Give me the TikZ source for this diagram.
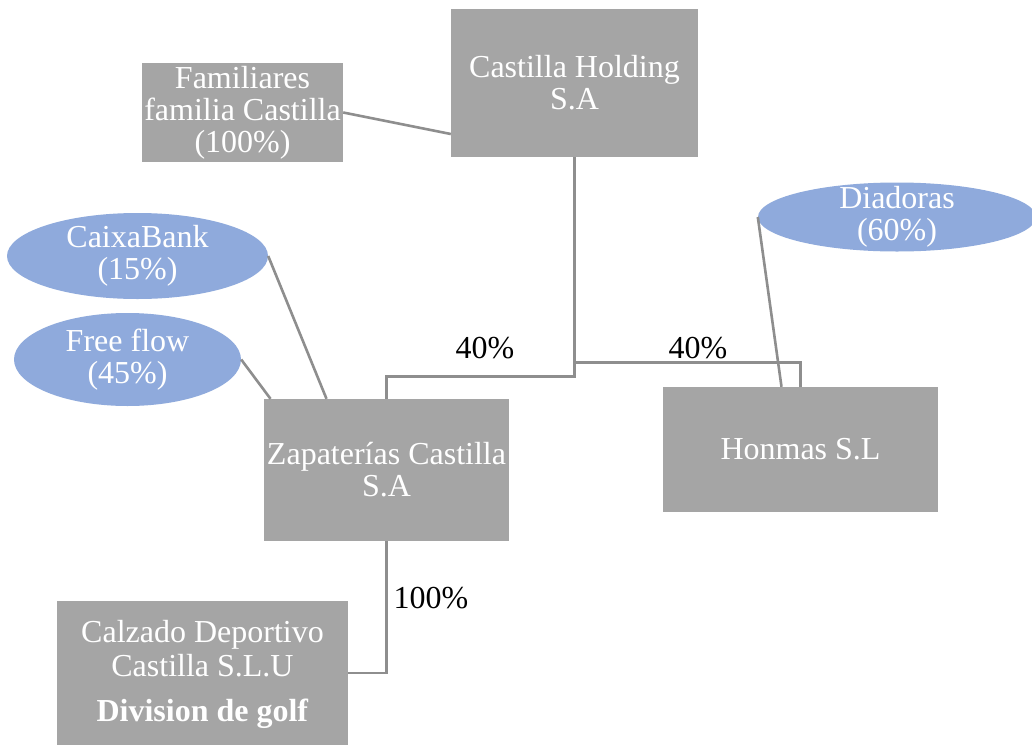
\documentclass[tikz,border=0pt]{standalone}
\usepackage{fontspec}
\setmainfont{Liberation Serif}
\usepackage{tikz}
\usetikzlibrary{positioning,shapes.geometric}

\definecolor{boxgray}{HTML}{A5A5A5}
\definecolor{ovalblue}{HTML}{8FAADC}
\definecolor{linegray}{HTML}{8E8E8E}

\tikzset{
  box/.style={rectangle, fill=boxgray, text=white, align=center, inner sep=0pt,
              font=\fontsize{32}{32}\selectfont},
  oval/.style={ellipse, fill=ovalblue, text=white, align=center, inner xsep=0pt, inner ysep=-20pt,
               font=\fontsize{32}{32}\selectfont},
  link/.style={draw=linegray, line width=2.6pt},
  pct/.style={inner sep=0pt, font=\fontsize{32}{32}\selectfont}
}

\begin{document}
\begin{tikzpicture}[x=1pt, y=-1pt, node distance=2cm, on grid]
   \clip (0,0) rectangle (1032,744);
   \fill[white] (0,0) rectangle (1032,744);

   \node[box, minimum width=247pt, minimum height=148pt] (hold) at (574.5,83)
        {Castilla Holding\\S.A};
   \node[box, minimum width=201pt, minimum height=99pt]  (fam)  [below left=29.5pt and 332pt of hold]
        {Familiares\\familia Castilla\\(100\%)};
   \node[box, minimum width=245pt, minimum height=142pt] (zap)  [below left=387pt and 188pt of hold]
        {Zapater\'ias Castilla\\S.A};
   \node[box, minimum width=275pt, minimum height=125pt] (hon)  [below right=366.5pt and 226pt of hold]
        {Honmas S.L};
   \node[box, minimum width=291pt, minimum height=146pt] (calz) [below left=204pt and 184pt of zap]
        {Calzado Deportivo\\[2pt]Castilla S.L.U\\[13pt]\textbf{Division de golf}};

   \node[oval, minimum width=261pt, minimum height=86pt] (caixa) [above left=214pt and 249pt of zap]
        {CaixaBank\\(15\%)};
   \node[oval, minimum width=227pt, minimum height=93pt] (free)  [above left=110.5pt and 259pt of zap]
        {Free flow\\(45\%)};
   \node[oval, minimum width=278pt, minimum height=69pt] (diad)  [above right=232.5pt and 96.5pt of hon]
        {Diadoras\\(60\%)};

   % ownership lines
   \draw[link] (fam.east) -- ([yshift=-51pt]hold.west);
   \draw[link] (hold.south) -- ([yshift=-219pt]hold.south) -| (zap.north);
   \draw[link] (hold.south) -- ([yshift=-205pt]hold.south) -| (hon.north);
   \draw[link] (caixa.east) -- ([xshift=-60pt]zap.north);
   \draw[link] (free.east) -- ([xshift=-116pt]zap.north);
   \draw[link] (diad.west) -- ([xshift=-19pt]hon.north);
   \draw[link] (zap.south) |- ([yshift=1pt]calz.east);

   \node[pct] (pz) at (485,348) {40\%};
   \node[pct] (ph) at (698,348) {40\%};
   \node[pct] (pc) at (431,598) {100\%};
\end{tikzpicture}
\end{document}
